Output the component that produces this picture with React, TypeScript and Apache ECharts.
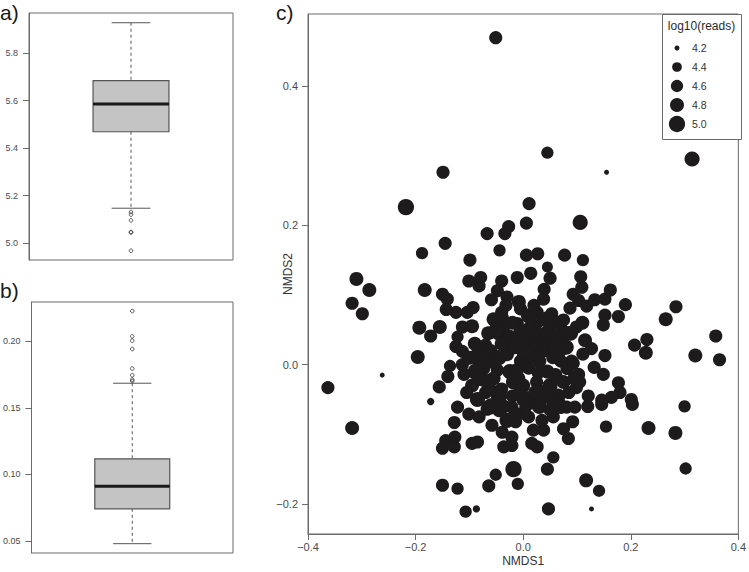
import React, { useEffect, useRef } from "react";
import * as echarts from "echarts";

// ---------- data ----------
// panel a) box-plot statistics: [lower whisker, Q1, median, Q3, upper whisker]
const boxAStats = [5.147, 5.469, 5.586, 5.684, 5.928];
const boxAOutliers = [5.131, 5.12, 5.096, 5.047, 5.045, 4.968];
const boxATicks = [5.0, 5.2, 5.4, 5.6, 5.8];
// panel b)
const boxBStats = [0.048, 0.0742, 0.0912, 0.1117, 0.1685];
const boxBOutliers = [0.2227, 0.2037, 0.2005, 0.1942, 0.1795, 0.1745, 0.1713, 0.1702];
const boxBTicks = [0.05, 0.1, 0.15, 0.2];
// panel c) NMDS ordination
const nmdsXTicks = [-0.4, -0.2, 0, 0.2, 0.4];
const nmdsYTicks = [-0.2, 0, 0.2, 0.4];
const legendValues = [4.2, 4.4, 4.6, 4.8, 5.0];

const nmds1 = [
  -0.051, 0.045, 0.314, 0.155, -0.149, -0.218, 0.011, 0.006, 0.106, -0.067,
  -0.027, -0.034, -0.188, -0.145, -0.099, -0.044, 0.006, 0.027, 0.077, 0.111,
  0.045, 0.014, 0.05, 0.107, -0.31, -0.286, -0.318, -0.299, -0.183, -0.15,
  -0.141, -0.143, -0.125, -0.104, -0.093, -0.101, -0.082, -0.079, -0.04, -0.048,
  -0.059, -0.03, -0.032, -0.011, -0.005, -0.193, -0.172, -0.155, -0.113, -0.122,
  -0.125, -0.113, -0.196, -0.262, -0.363, -0.136, -0.14, -0.156, -0.113, -0.11,
  -0.079, -0.07, -0.039, -0.036, -0.048, -0.027, -0.033, -0.011, -0.172, 0.109,
  0.039, 0.038, 0.093, 0.103, 0.133, 0.152, 0.162, 0.087, 0.118, 0.19,
  0.284, 0.265, 0.358, 0.207, 0.23, 0.228, 0.32, 0.365, 0.177, 0.152,
  0.149, 0.099, 0.075, 0.053, 0.026, 0.027, 0.069, 0.041, 0.05, 0.111,
  0.127, 0.152, 0.132, 0.149, 0.093, 0.103, 0.099, 0.177, 0.18, 0.201,
  0.164, 0.146, 0.121, 0.3, -0.318, -0.128, -0.144, -0.127, -0.15, -0.128,
  -0.095, -0.085, -0.122, -0.101, -0.082, -0.067, -0.045, -0.021, -0.008, -0.058,
  -0.039, -0.021, -0.014, -0.036, -0.021, -0.15, -0.122, -0.107, -0.087, -0.064,
  -0.051, -0.018, -0.01, 0.146, 0.203, 0.154, 0.233, 0.283, 0.302, 0.056,
  0.045, 0.117, 0.141, 0.047, 0.127, 0.084, 0.092, 0.075, 0.056, 0.016,
  0.026, 0.01, 0.038, 0.019, 0.081, 0.096, 0.062,
  -0.09, -0.075, -0.06, -0.055, -0.045, -0.04, -0.03, -0.025, -0.02, -0.015,
  -0.01, -0.005, 0.0, 0.005, 0.01, 0.015, 0.02, 0.025, 0.03, 0.035,
  0.04, 0.045, 0.05, 0.055, 0.06, 0.065, 0.07, 0.075, 0.08, 0.085,
  -0.095, -0.085, -0.07, -0.065, -0.05, -0.035, -0.02, -0.005, 0.005, 0.02,
  0.03, 0.04, 0.06, 0.07, 0.09, -0.1, -0.08, 0.0, -0.012, 0.012,
  0.028, -0.028, 0.048, -0.048, 0.065, 0.01, -0.04, 0.05, -0.015, 0.035,
  -0.085, -0.065, -0.045, -0.025, -0.005, 0.015, 0.035, 0.055, 0.075, 0.095,
  -0.08, -0.06, -0.04, -0.018, 0.002, 0.022, 0.042, 0.062, 0.082, -0.03,
  -0.055, 0.01, 0.045, 0.025, -0.01, -0.065, 0.068, 0.088, -0.088, 0.0,
  0.105, 0.115, -0.105, 0.11, 0.12, -0.095, 0.05, -0.05, 0.02, -0.008,
];

const nmds2 = [
  0.469, 0.304, 0.295, 0.276, 0.276, 0.226, 0.231, 0.203, 0.204, 0.188,
  0.198, 0.188, 0.16, 0.174, 0.15, 0.164, 0.157, 0.159, 0.157, 0.15,
  0.14, 0.131, 0.124, 0.126, 0.123, 0.107, 0.088, 0.073, 0.107, 0.101,
  0.094, 0.079, 0.075, 0.075, 0.082, 0.12, 0.113, 0.125, 0.12, 0.106,
  0.093, 0.097, 0.085, 0.125, 0.08, 0.053, 0.041, 0.054, 0.054, 0.04,
  0.026, 0.019, 0.011, -0.015, -0.033, -0.002, -0.017, -0.032, 0.0, -0.014,
  0.014, 0.028, 0.068, 0.054, 0.045, 0.04, 0.028, 0.059, -0.053, 0.111,
  0.108, 0.094, 0.101, 0.092, 0.093, 0.094, 0.107, 0.081, 0.084, 0.086,
  0.083, 0.065, 0.041, 0.028, 0.036, 0.017, 0.013, 0.007, 0.069, 0.071,
  0.057, 0.054, 0.064, 0.073, 0.075, 0.061, 0.038, 0.038, 0.028, 0.015,
  0.023, 0.013, -0.004, -0.014, 0.002, -0.014, -0.033, -0.026, -0.04, -0.05,
  -0.047, -0.051, -0.045, -0.06, -0.091, -0.083, -0.109, -0.104, -0.12, -0.118,
  -0.113, -0.111, -0.061, -0.071, -0.075, -0.064, -0.066, -0.061, -0.071, -0.087,
  -0.097, -0.104, -0.082, -0.118, -0.116, -0.173, -0.178, -0.211, -0.207, -0.174,
  -0.158, -0.15, -0.171, -0.057, -0.057, -0.089, -0.091, -0.098, -0.149, -0.133,
  -0.15, -0.166, -0.181, -0.207, -0.207, -0.106, -0.082, -0.092, -0.075, -0.113,
  -0.118, -0.075, -0.094, -0.094, -0.061, -0.061, -0.061,
  0.03, -0.005, 0.02, -0.02, 0.01, -0.035, 0.015, -0.01, -0.045, 0.025,
  -0.02, 0.005, -0.03, 0.03, -0.005, -0.05, 0.015, -0.025, 0.005, -0.04,
  0.02, -0.01, -0.03, 0.01, -0.015, -0.045, 0.005, -0.025, 0.025, -0.04,
  -0.03, -0.05, -0.04, 0.045, 0.05, -0.06, 0.06, 0.045, -0.06, 0.05,
  -0.06, 0.045, 0.04, -0.06, 0.005, 0.01, 0.005, 0.01, -0.008, 0.012,
  -0.012, 0.035, 0.03, -0.008, 0.06, 0.07, 0.075, 0.055, -0.075, -0.08,
  0.015, 0.005, -0.045, 0.04, -0.04, 0.04, 0.03, -0.05, 0.045, -0.02,
  -0.02, -0.06, 0.03, -0.025, 0.02, -0.04, -0.045, 0.025, -0.005, -0.08,
  0.065, 0.05, 0.065, 0.03, 0.035, -0.025, 0.02, 0.045, -0.01, -0.05,
  -0.025, 0.035, -0.04, 0.06, -0.06, 0.055, -0.065, -0.04, 0.085, 0.09,
];

const logReads = [
  4.7, 4.6, 4.9, 4.2, 4.7, 5.0, 4.7, 4.7, 4.9, 4.7,
  4.7, 4.7, 4.6, 4.7, 4.7, 4.6, 4.7, 4.7, 4.7, 4.6,
  4.5, 4.7, 4.7, 4.7, 4.8, 4.8, 4.7, 4.7, 4.8, 4.7,
  4.7, 4.7, 4.7, 4.7, 4.7, 4.7, 4.7, 4.7, 4.7, 4.7,
  4.7, 4.7, 4.7, 4.7, 4.7, 4.8, 4.7, 4.8, 4.7, 4.6,
  4.7, 4.7, 4.8, 4.2, 4.7, 4.6, 4.7, 4.7, 4.7, 4.7,
  4.7, 4.7, 4.7, 4.7, 4.7, 4.7, 4.7, 4.7, 4.3, 4.7,
  4.7, 4.7, 4.7, 4.7, 4.7, 4.7, 4.7, 4.7, 4.7, 4.7,
  4.7, 4.8, 4.7, 4.7, 4.7, 4.8, 4.8, 4.7, 4.7, 4.7,
  4.7, 4.7, 4.7, 4.7, 4.7, 4.7, 4.7, 4.7, 4.7, 4.7,
  4.7, 4.7, 4.7, 4.7, 4.7, 4.7, 4.7, 4.7, 4.7, 4.7,
  4.7, 4.7, 4.7, 4.6, 4.8, 4.7, 4.7, 4.7, 4.7, 4.7,
  4.7, 4.7, 4.7, 4.7, 4.7, 4.7, 4.7, 4.7, 4.7, 4.7,
  4.7, 4.7, 4.7, 4.7, 4.7, 4.7, 4.6, 4.6, 4.3, 4.7,
  4.6, 5.0, 4.6, 4.7, 4.7, 4.6, 4.8, 4.8, 4.6, 4.6,
  4.7, 4.8, 4.6, 4.7, 4.2, 4.7, 4.7, 4.7, 4.7, 4.7,
  4.7, 4.7, 4.7, 4.7, 4.7, 4.7, 4.7,
  4.8, 4.9, 4.7, 4.8, 4.9, 4.7, 4.8, 4.9, 4.7, 4.8,
  4.9, 4.7, 4.8, 4.9, 4.7, 4.8, 4.9, 4.7, 4.8, 4.9,
  4.7, 4.8, 4.9, 4.7, 4.8, 4.9, 4.7, 4.8, 4.9, 4.7,
  4.8, 4.9, 4.7, 4.8, 4.9, 4.7, 4.8, 4.9, 4.7, 4.8,
  4.9, 4.7, 4.8, 4.9, 4.7, 4.8, 4.9, 4.7, 4.8, 4.9,
  4.7, 4.8, 4.9, 4.7, 4.8, 4.9, 4.7, 4.8, 4.9, 4.7,
  4.8, 4.9, 5.0, 4.8, 4.9, 5.0, 4.8, 4.9, 5.0, 4.8,
  4.9, 5.0, 4.8, 4.9, 5.0, 4.8, 4.9, 5.0, 4.8, 4.9,
  4.8, 4.9, 5.0, 4.8, 4.9, 5.0, 4.8, 4.9, 5.0, 4.8,
  4.7, 4.8, 4.7, 4.8, 4.7, 4.8, 4.7, 4.8, 4.7, 4.8,
];

// ---------- styles ----------
const FONT = '"Liberation Sans", Arial, Helvetica, sans-serif';
const LEGEND_SIZES = [5, 9.7, 12.3, 14, 16.3];
const INK = "#1d1b1c";
const FRAME = "#6b6b6b";
const LABEL = "#4a4a4a";

function sizeFor(v: number): number {
  if (v <= legendValues[0]) return LEGEND_SIZES[0];
  for (let i = 1; i < legendValues.length; i++) {
    if (v <= legendValues[i]) {
      const t = (v - legendValues[i - 1]) / (legendValues[i] - legendValues[i - 1]);
      return LEGEND_SIZES[i - 1] + t * (LEGEND_SIZES[i] - LEGEND_SIZES[i - 1]);
    }
  }
  return LEGEND_SIZES[LEGEND_SIZES.length - 1];
}

function fmt(v: number, d: number): string {
  const s = Math.abs(v).toFixed(d);
  return v < -1e-9 ? "\u2212" + s : s;
}

const boxRender = (params: any, api: any) => {
  const cat = api.value(0);
  const p = (v: number) => api.coord([cat, v]);
  const cx = p(api.value(3))[0];
  const yLow = p(api.value(1))[1];
  const yQ1 = p(api.value(2))[1];
  const yMed = p(api.value(3))[1];
  const yQ3 = p(api.value(4))[1];
  const yHigh = p(api.value(5))[1];
  const band = api.size([1, 0])[0];
  const hw = band * 0.186;
  const cw = band * 0.095;
  const stroke = "#555555";
  return {
    type: "group",
    children: [
      { type: "line", shape: { x1: cx, y1: yHigh, x2: cx, y2: yQ3 }, style: { stroke, lineWidth: 1, lineDash: [3, 3] } },
      { type: "line", shape: { x1: cx, y1: yQ1, x2: cx, y2: yLow }, style: { stroke, lineWidth: 1, lineDash: [3, 3] } },
      { type: "line", shape: { x1: cx - cw, y1: yHigh, x2: cx + cw, y2: yHigh }, style: { stroke, lineWidth: 1 } },
      { type: "line", shape: { x1: cx - cw, y1: yLow, x2: cx + cw, y2: yLow }, style: { stroke, lineWidth: 1 } },
      {
        type: "rect",
        shape: { x: cx - hw, y: yQ3, width: 2 * hw, height: yQ1 - yQ3 },
        style: { fill: "#c4c4c4", stroke, lineWidth: 1.2 },
      },
      { type: "line", shape: { x1: cx - hw, y1: yMed, x2: cx + hw, y2: yMed }, style: { stroke: "#1a1a1a", lineWidth: 3 } },
    ],
  };
};

function boxYAxis(gridIndex: number, min: number, max: number, ticks: number[], d: number) {
  return {
    type: "value",
    gridIndex,
    min,
    max,
    position: "left",
    splitLine: { show: false },
    axisLine: { show: true, onZero: false, lineStyle: { color: FRAME, width: 1 } },
    axisTick: { show: true, inside: false, length: 6, customValues: ticks, lineStyle: { color: FRAME } },
    axisLabel: {
      customValues: ticks,
      margin: 11,
      fontSize: 9,
      fontFamily: FONT,
      color: LABEL,
      formatter: (v: number) => fmt(v, d),
    },
  };
}

function boxXAxis(gridIndex: number) {
  return {
    type: "category",
    gridIndex,
    data: [""],
    axisLine: { show: false },
    axisTick: { show: false },
    axisLabel: { show: false },
    splitLine: { show: false },
  };
}

export default function App() {
  const ref = useRef<HTMLDivElement>(null);

  useEffect(() => {
    if (!ref.current) return;
    const chart = echarts.init(ref.current, undefined, { renderer: "svg" });

    const scatterData = nmds1.map((x, i) => [x, nmds2[i], logReads[i]]);

    const legendX = 662;
    const legendTop = 14;
    const legendGraphics: any[] = [
      {
        type: "rect",
        shape: { x: legendX + 0.5, y: legendTop + 0.5, width: 79, height: 125 },
        style: { fill: "#ffffff", stroke: FRAME, lineWidth: 1 },
        z: 10,
      },
      {
        type: "text",
        x: 701.5,
        y: 26,
        style: { text: "log10(reads)", fontSize: 12, fontFamily: FONT, fill: "#2a2a2a", align: "center", verticalAlign: "middle" },
        z: 11,
      },
    ];
    legendValues.forEach((v, i) => {
      const cy = 48 + i * 19;
      legendGraphics.push({
        type: "circle",
        shape: { cx: 677, cy, r: sizeFor(v) / 2 },
        style: { fill: INK },
        z: 11,
      });
      legendGraphics.push({
        type: "text",
        x: 692,
        y: cy,
        style: { text: v.toFixed(1), fontSize: 10.5, fontFamily: FONT, fill: "#333", verticalAlign: "middle" },
        z: 11,
      });
    });

    const panelLabels = [
      { t: "a)", x: 0, y: 2 },
      { t: "b)", x: 0, y: 280 },
      { t: "c)", x: 276, y: 2 },
    ].map((l) => ({
      type: "text",
      x: l.x,
      y: l.y,
      style: { text: l.t, fontSize: 21, fontFamily: FONT, fill: "#1a1a1a", verticalAlign: "top" },
      z: 12,
    }));

    chart.setOption({
      animation: false,
      backgroundColor: "#ffffff",
      textStyle: { fontFamily: FONT },
      grid: [
        { left: 29, top: 13, width: 204, height: 247, show: true, borderColor: FRAME, borderWidth: 1, backgroundColor: "transparent" },
        { left: 29, top: 302, width: 204, height: 251, show: true, borderColor: FRAME, borderWidth: 1, backgroundColor: "transparent" },
        { left: 308, top: 14, width: 433, height: 528, show: true, borderColor: FRAME, borderWidth: 1, backgroundColor: "transparent" },
      ],
      xAxis: [
        boxXAxis(0),
        boxXAxis(1),
        {
          type: "value",
          gridIndex: 2,
          min: -0.4,
          max: 0.4,
          interval: 0.2,
          position: "bottom",
          splitLine: { show: false },
          axisLine: { show: true, onZero: false, lineStyle: { color: FRAME, width: 1 } },
          axisTick: { show: true, inside: false, length: 6, customValues: nmdsXTicks, lineStyle: { color: FRAME } },
          axisLabel: {
            customValues: nmdsXTicks,
            margin: 7,
            fontSize: 11,
            fontFamily: FONT,
            color: LABEL,
            formatter: (v: number) => fmt(v, 1),
          },
          name: "NMDS1",
          nameLocation: "middle",
          nameGap: 21,
          nameMoveOverlap: false,
          nameTextStyle: { fontSize: 12, fontFamily: FONT, color: "#333" },
        },
      ],
      yAxis: [
        boxYAxis(0, 4.929, 5.969, boxATicks, 1),
        boxYAxis(1, 0.041, 0.2295, boxBTicks, 2),
        {
          type: "value",
          gridIndex: 2,
          min: -0.243,
          max: 0.503,
          position: "left",
          splitLine: { show: false },
          axisLine: { show: true, onZero: false, lineStyle: { color: FRAME, width: 1 } },
          axisTick: { show: true, inside: false, length: 6, customValues: nmdsYTicks, lineStyle: { color: FRAME } },
          axisLabel: {
            customValues: nmdsYTicks,
            margin: 10,
            fontSize: 11,
            fontFamily: FONT,
            color: LABEL,
            formatter: (v: number) => fmt(v, 1),
          },
          name: "NMDS2",
          nameLocation: "middle",
          nameGap: 14,
          nameRotate: 90,
          nameMoveOverlap: false,
          nameTextStyle: { fontSize: 12, fontFamily: FONT, color: "#333" },
        },
      ],
      series: [
        {
          type: "custom",
          xAxisIndex: 0,
          yAxisIndex: 0,
          renderItem: boxRender,
          encode: { x: 0, y: [1, 2, 3, 4, 5] },
          data: [[0, ...boxAStats]],
          silent: true,
        },
        {
          type: "scatter",
          xAxisIndex: 0,
          yAxisIndex: 0,
          symbol: "circle",
          symbolSize: 3.6,
          itemStyle: { color: "transparent", borderColor: "#333", borderWidth: 1 },
          data: boxAOutliers.map((v) => [0, v]),
          silent: true,
        },
        {
          type: "custom",
          xAxisIndex: 1,
          yAxisIndex: 1,
          renderItem: boxRender,
          encode: { x: 0, y: [1, 2, 3, 4, 5] },
          data: [[0, ...boxBStats]],
          silent: true,
        },
        {
          type: "scatter",
          xAxisIndex: 1,
          yAxisIndex: 1,
          symbol: "circle",
          symbolSize: 3.6,
          itemStyle: { color: "transparent", borderColor: "#333", borderWidth: 1 },
          data: boxBOutliers.map((v) => [0, v]),
          silent: true,
        },
        {
          type: "scatter",
          xAxisIndex: 2,
          yAxisIndex: 2,
          symbol: "circle",
          symbolSize: (d: number[]) => sizeFor(d[2]),
          itemStyle: { color: INK, opacity: 1 },
          data: scatterData,
          silent: true,
        },
      ],
      graphic: [...legendGraphics, ...panelLabels],
    });

    return () => chart.dispose();
  }, []);

  return (
    <div
      ref={ref}
      style={{ position: "fixed", left: 0, top: 0, width: 749, height: 572, background: "#fff" }}
    />
  );
}
